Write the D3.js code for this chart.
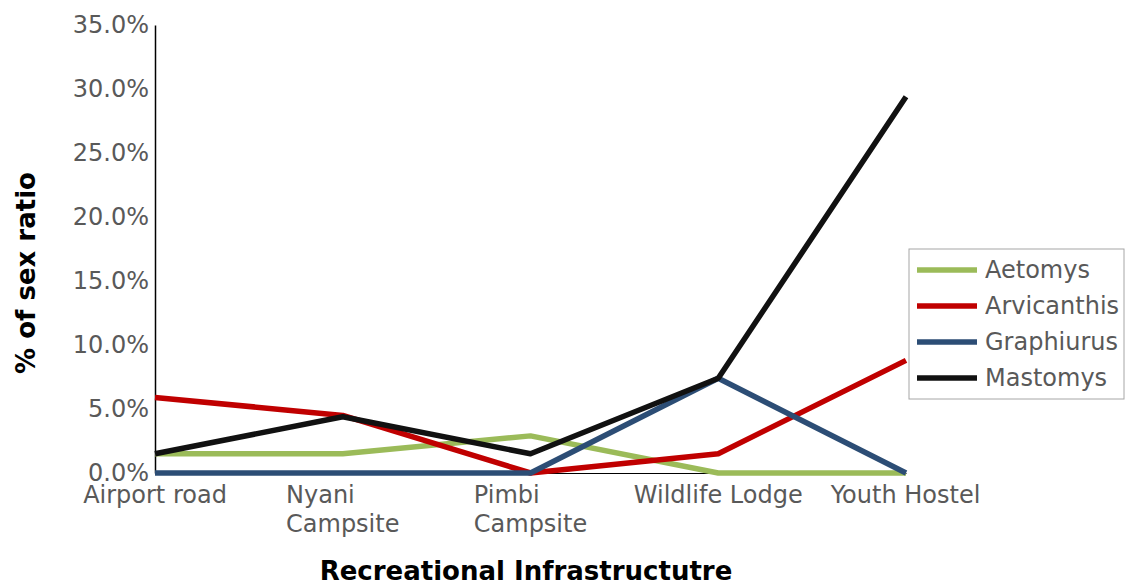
<!DOCTYPE html>
<html>
<head>
<meta charset="utf-8">
<script src="https://cdn.jsdelivr.net/npm/d3@7"></script>
<style>
  body { margin: 0; background: #fff; }
  text { font-family: "DejaVu Sans", sans-serif; }
</style>
</head>
<body>
<div id="chart"></div>
<script>
// data
let sites = ["Airport road", "Nyani Campsite", "Pimbi Campsite", "Wildlife Lodge", "Youth Hostel"]
let siteLines = [["Airport road"], ["Nyani", "Campsite"], ["Pimbi", "Campsite"], ["Wildlife Lodge"], ["Youth Hostel"]]
let speciesNames = ["Aetomys", "Arvicanthis", "Graphiurus", "Mastomys"]
let aetomys = [1.5, 1.5, 2.9, 0, 0]
let arvicanthis = [5.9, 4.5, 0, 1.5, 8.8]
let graphiurus = [0, 0, 0, 7.4, 0]
let mastomys = [1.5, 4.4, 1.5, 7.4, 29.4]
let yTicks = [0, 5, 10, 15, 20, 25, 30, 35]
let colors = ["#9bbb59", "#c00000", "#2c4d75", "#111111"]

let series = speciesNames.map((name, i) => ({
    name: name,
    values: [aetomys, arvicanthis, graphiurus, mastomys][i],
    color: colors[i]
}))

let W = 1125, H = 586
let margin = {top: 25, right: 219, bottom: 113, left: 155}
let width = W - margin.left - margin.right
let height = H - margin.top - margin.bottom

let svg = d3.select("#chart").append("svg")
    .attr("width", W)
    .attr("height", H)

let g = svg.append("g")
    .attr("transform", `translate(${margin.left}, ${margin.top})`)

// scales
let x = d3.scalePoint().domain(sites).range([0, width])
let y = d3.scaleLinear().domain([0, 35]).range([height, 0])

// y axis
let yAxis = d3.axisLeft(y).tickValues(yTicks).tickSize(0).tickPadding(6)
    .tickFormat(d => d.toFixed(1) + "%")
let yG = g.append("g").call(yAxis)
yG.select(".domain").attr("stroke", "#000").attr("stroke-width", 1.5)
yG.selectAll("text").attr("fill", "#595959").style("font-size", "24px")
    .attr("dy", "0.3em")

// x axis
let xAxis = d3.axisBottom(x).tickSize(0).tickFormat("")
let xG = g.append("g").attr("transform", `translate(0, ${height})`).call(xAxis)
xG.select(".domain").attr("stroke", "#000").attr("stroke-width", 1.2)

// category labels, wrapped block centred on the point
sites.forEach((s, i) => {
    let lines = siteLines[i]
    let t = g.append("text")
        .attr("fill", "#595959")
        .style("font-size", "24px")
        .attr("y", height + 30)
    lines.forEach((ln, j) => {
        t.append("tspan").attr("x", 0).attr("dy", j === 0 ? 0 : 29).text(ln)
    })
    let bw = t.node().getBBox().width
    t.selectAll("tspan").attr("x", x(s) - bw / 2)
})

// lines
let line = d3.line()
    .x((d, i) => x(sites[i]))
    .y(d => y(d))

g.selectAll(".series")
    .data(series)
    .enter().append("path")
    .attr("class", "series")
    .attr("d", d => line(d.values))
    .attr("fill", "none")
    .attr("stroke", d => d.color)
    .attr("stroke-width", 5.5)
    .attr("stroke-linejoin", "round")

// axis titles
svg.append("text")
    .attr("x", 526)
    .attr("y", 580)
    .attr("text-anchor", "middle")
    .style("font-size", "26px")
    .style("font-weight", "bold")
    .attr("fill", "#000")
    .text("Recreational Infrastructutre")

svg.append("text")
    .attr("transform", "translate(35, 273) rotate(-90)")
    .attr("text-anchor", "middle")
    .style("font-size", "26px")
    .style("font-weight", "bold")
    .attr("fill", "#000")
    .text("% of sex ratio")

// legend
let legend = svg.append("g").attr("transform", "translate(909, 249)")
legend.append("rect")
    .attr("width", 215)
    .attr("height", 150)
    .attr("fill", "#fff")
    .attr("stroke", "#a6a6a6")
    .attr("stroke-width", 1)

let items = legend.selectAll(".item")
    .data(series)
    .enter().append("g")
    .attr("class", "item")
    .attr("transform", (d, i) => `translate(0, ${21 + i * 36})`)

items.append("line")
    .attr("x1", 8).attr("x2", 68)
    .attr("stroke", d => d.color)
    .attr("stroke-width", 5.5)

items.append("text")
    .attr("x", 76)
    .attr("dy", "0.35em")
    .attr("fill", "#595959")
    .style("font-size", "24px")
    .text(d => d.name)
</script>
</body>
</html>
